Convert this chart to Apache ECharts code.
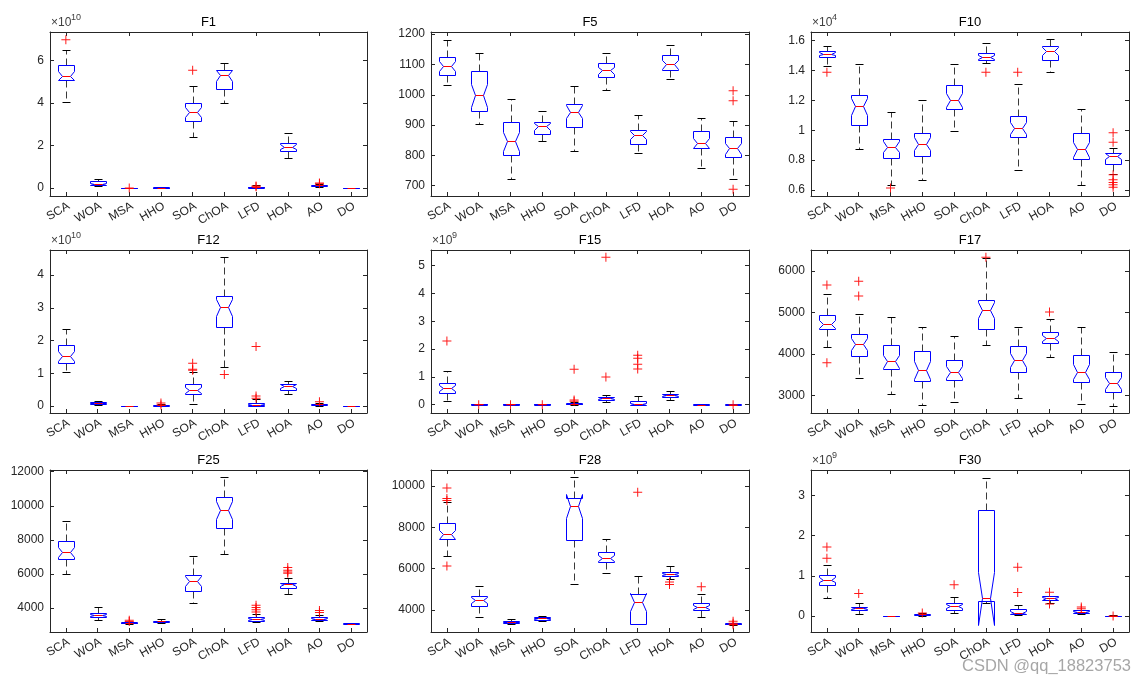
<!DOCTYPE html>
<html><head><meta charset="utf-8">
<script src="https://cdn.jsdelivr.net/npm/echarts@6/dist/echarts.min.js"></script>
<style>html,body{margin:0;padding:0;background:#fff}#c{width:1146px;height:684px}</style>
</head><body><div id="c"></div>
<script>
// ---------------- DATA ----------------
const categories = ['SCA','WOA','MSA','HHO','SOA','ChOA','LFD','HOA','AO','DO'];
const panelTitles = ['F1','F5','F10','F12','F15','F17','F25','F28','F30'];
const exponents = ['10', null, '4', '10', '9', null, null, null, '9'];
const sampleSize = 30; // runs per algorithm, used for notch half-width 1.57*IQR/sqrt(n)

// box stats per category: [lowWhisker, q1, median, q3, highWhisker]
const f1Box = [[4.03,5.06,5.27,5.78,6.47],[0.11,0.14,0.20,0.32,0.42],[0.00,0.005,0.01,0.015,0.02],[0.01,0.015,0.02,0.025,0.03],[2.41,3.17,3.56,3.98,4.80],[3.98,4.66,5.30,5.55,5.85],[0.00,0.02,0.04,0.07,0.12],[1.39,1.72,1.93,2.13,2.59],[0.06,0.09,0.12,0.15,0.18],[0,0.003,0.005,0.008,0.01]];
const f1Out = [[0,6.97],[2,0.0],[4,5.53],[6,0.06],[6,0.09],[8,0.23],[8,0.2]];
const f1Lim = [-0.376, 7.33];
const f1Ticks = [0,2,4,6];

const f5Box = [[1031,1066,1095,1124,1180],[902,947,998,1079,1139],[721,802,846,909,986],[847,870,896,910,948],[813,895,944,969,1028],[1017,1060,1080,1106,1139],[807,839,867,885,932],[1053,1083,1100,1130,1164],[757,824,840,879,923],[722,796,823,859,915]];
const f5Out = [[9,1013],[9,980],[9,688]];
const f5Lim = [666, 1207];
const f5Ticks = [700,800,900,1000,1100,1200];

const f10Box = [[1.431,1.491,1.513,1.531,1.564],[0.878,1.038,1.162,1.236,1.447],[0.631,0.813,0.891,0.940,1.124],[0.667,0.831,0.911,0.980,1.200],[0.996,1.144,1.202,1.300,1.447],[1.453,1.469,1.491,1.516,1.582],[0.733,0.953,1.013,1.096,1.311],[1.387,1.469,1.531,1.564,1.609],[0.633,0.807,0.873,0.980,1.140],[0.709,0.776,0.829,0.847,0.880]];
const f10Out = [[0,1.389],[2,0.613],[5,1.389],[6,1.389],[9,0.984],[9,0.920],[9,0.702],[9,0.669],[9,0.651],[9,0.636],[9,0.618]];
const f10Lim = [0.56, 1.658];
const f10Ticks = [0.6,0.8,1,1.2,1.4,1.6];

const f12Box = [[1.03,1.306,1.52,1.857,2.357],[0.03,0.07,0.09,0.12,0.16],[0.005,0.008,0.01,0.012,0.015],[0.005,0.01,0.02,0.03,0.05],[0.071,0.378,0.49,0.663,1.05],[1.184,2.398,3.01,3.347,4.55],[0.0,0.01,0.04,0.09,0.2],[0.367,0.48,0.612,0.663,0.755],[0.01,0.03,0.05,0.07,0.1],[0.005,0.008,0.01,0.012,0.015]];
const f12Out = [[3,0.09],[3,0.03],[4,1.306],[4,1.12],[4,1.09],[5,0.959],[6,1.816],[6,0.306],[6,0.235],[8,0.13]];
const f12Lim = [-0.214, 4.765];
const f12Ticks = [0,1,2,3,4];

const f15Box = [[0.132,0.432,0.6,0.767,1.21],[0.0,0.005,0.01,0.015,0.02],[0.0,0.005,0.01,0.015,0.02],[0.0,0.005,0.01,0.015,0.02],[0.0,0.01,0.024,0.05,0.09],[0.108,0.156,0.228,0.288,0.35],[0.0,0.0,0.01,0.12,0.312],[0.18,0.276,0.336,0.396,0.504],[0,0.003,0.005,0.008,0.01],[0,0.003,0.005,0.008,0.01]];
const f15Out = [[0,2.29],[1,0.0],[2,0.0],[3,0.0],[4,1.27],[4,0.168],[4,0.12],[5,5.3],[5,0.995],[6,1.775],[6,1.667],[6,1.45],[6,1.283],[9,0.0]];
const f15Lim = [-0.3, 5.564];
const f15Ticks = [0,1,2,3,4,5];

const f17Box = [[4179,4612,4724,4949,5438],[3417,3946,4243,4484,4973],[3040,3650,3826,4219,4893],[2775,3345,3618,4075,4660],[2856,3377,3569,3850,4436],[4211,4612,5053,5294,6320],[2944,3569,3858,4187,4660],[3922,4267,4387,4540,4853],[2800,3329,3577,3978,4660],[2751,3080,3297,3577,4043]];
const f17Out = [[0,5662],[0,3794],[1,5751],[1,5398],[5,6328],[7,5013]];
const f17Lim = [2583, 6505];
const f17Ticks = [3000,4000,5000,6000];

const f25Box = [[5985,6880,7308,7911,9099],[3280,3455,3591,3728,4039],[3090,3124,3144,3163,3200],[3105,3183,3222,3241,3338],[4311,5012,5596,5965,7075],[7172,8670,9741,10539,11667],[3202,3261,3358,3455,3650],[4837,5168,5401,5498,5790],[3222,3280,3358,3455,3591],[3040,3066,3085,3124,3150]];
const f25Out = [[2,3290],[2,3220],[6,4175],[6,4039],[6,3903],[6,3766],[7,6374],[7,6218],[7,6121],[7,6043],[8,3864],[8,3747]];
const f25Lim = [2600, 12097];
const f25Ticks = [4000,6000,8000,10000,12000];

const f28Box = [[6598,7433,7673,8186,9213],[3663,4192,4497,4690,5155],[3342,3390,3439,3471,3551],[3487,3519,3599,3663,3695],[5267,7384,9037,9438,10432],[5813,6310,6518,6823,7433],[3310,3310,4401,4786,5652],[5492,5652,5732,5845,6149],[3663,4016,4144,4337,4754],[3300,3326,3342,3358,3380]];
const f28Out = [[0,9903],[0,9389],[0,9293],[0,6133],[6,9694],[7,5363],[7,5235],[8,5123],[9,3455],[9,3358],[9,3290]];
const f28Lim = [2941, 10769];
const f28Ticks = [4000,6000,8000,10000];

const f30Box = [[0.438,0.785,0.909,1.033,1.281],[0.05,0.14,0.19,0.231,0.322],[0.0,0.003,0.005,0.007,0.01],[0.01,0.03,0.045,0.06,0.08],[0.066,0.157,0.256,0.331,0.463],[0.314,0.364,0.438,2.628,3.446],[0.025,0.041,0.083,0.165,0.273],[0.33,0.397,0.438,0.488,0.504],[0.05,0.074,0.107,0.14,0.157],[0.0,0.005,0.01,0.012,0.015]];
const f30Out = [[0,1.719],[0,1.438],[1,0.562],[3,0.075],[4,0.777],[6,1.215],[6,0.587],[7,0.595],[7,0.30],[8,0.223],[8,0.18],[9,0.0]];
const f30Lim = [-0.397, 3.636];
const f30Ticks = [0,1,2,3];

// ---------------- LAYOUT / STYLE ----------------
const boxes = [f1Box,f5Box,f10Box,f12Box,f15Box,f17Box,f25Box,f28Box,f30Box];
const outs = [f1Out,f5Out,f10Out,f12Out,f15Out,f17Out,f25Out,f28Out,f30Out];
const lims = [f1Lim,f5Lim,f10Lim,f12Lim,f15Lim,f17Lim,f25Lim,f28Lim,f30Lim];
const ticks = [f1Ticks,f5Ticks,f10Ticks,f12Ticks,f15Ticks,f17Ticks,f25Ticks,f28Ticks,f30Ticks];
const colLeft = [50, 431, 811], colWidth = [317, 318, 318];
const rowTop = [32, 250, 470], rowHeight = [164, 163, 162];
const FONT = '"Liberation Sans", Arial, Helvetica, sans-serif';
const TXT = '#262626';
const plusSymbol = 'path://M4,0H5V4H9V5H5V9H4V5H0V4H4Z';

function fmt(v){ return String(parseFloat(Number(v).toFixed(6))); }

function renderBox(params, api){
  const idx = api.value(0);
  const lo = api.value(1), q1 = api.value(2), md = api.value(3), q3 = api.value(4), hi = api.value(5);
  const notch = 1.57 * (q3 - q1) / Math.sqrt(sampleSize);
  const nlo = md - notch, nhi = md + notch;
  const band = api.size([1, 0])[0];
  const hw = Math.round(band * 0.25);
  const cx = Math.round(api.coord([idx, md])[0]) + 0.5;
  const Y = v => Math.round(api.coord([idx, v])[1]) + 0.5;
  const L = cx - hw, R = cx + hw;
  const mL = cx - Math.round(hw/2), mR = cx + Math.round(hw/2);
  const cL = cx - Math.round(hw*0.45), cR = cx + Math.round(hw*0.45);
  const dash = {stroke:'#3a3a3a', lineWidth:1, lineDash:[7,4], fill:'none'};
  const solid = {stroke:'#000', lineWidth:1, fill:'none'};
  const ch = [];
  if (Y(hi) < Y(q3)) ch.push({type:'line', shape:{x1:cx,y1:Y(q3),x2:cx,y2:Y(hi)}, style:dash});
  if (Y(lo) > Y(q1)) ch.push({type:'line', shape:{x1:cx,y1:Y(q1),x2:cx,y2:Y(lo)}, style:dash});
  ch.push({type:'line', shape:{x1:cL,y1:Y(hi),x2:cR,y2:Y(hi)}, style:solid});
  ch.push({type:'line', shape:{x1:cL,y1:Y(lo),x2:cR,y2:Y(lo)}, style:solid});
  ch.push({type:'polygon', shape:{points:[
    [L,Y(q1)],[L,Y(nlo)],[mL,Y(md)],[L,Y(nhi)],[L,Y(q3)],
    [R,Y(q3)],[R,Y(nhi)],[mR,Y(md)],[R,Y(nlo)],[R,Y(q1)]
  ]}, style:{stroke:'#0000ff', lineWidth:1, fill:'none'}});
  ch.push({type:'line', shape:{x1:mL,y1:Y(md),x2:mR,y2:Y(md)}, style:{stroke:'#ff0000', lineWidth:1}});
  return {type:'group', children:ch};
}

const grids = [], xAxes = [], yAxes = [], series = [], graphics = [];
const axisLine = {show:true, onZero:false, lineStyle:{color:TXT, width:1}};
for (let i = 0; i < 9; i++){
  const r = Math.floor(i/3), c = i%3;
  grids.push({left:colLeft[c], top:rowTop[r], width:colWidth[c], height:rowHeight[r], containLabel:false});
}
for (let i = 0; i < 9; i++){
  xAxes.push({type:'category', gridIndex:i, data:categories, boundaryGap:true, position:'bottom',
    axisLine:axisLine, axisTick:{show:true, inside:true, alignWithLabel:true, length:4, lineStyle:{color:TXT}},
    axisLabel:{interval:0, rotate:30, fontSize:12, color:TXT, fontFamily:FONT, margin:4, verticalAlign:'top', align:'right'},
    splitLine:{show:false}});
  yAxes.push({type:'value', gridIndex:i, min:lims[i][0], max:lims[i][1], position:'left',
    axisLine:axisLine, axisTick:{show:true, inside:true, length:4, customValues:ticks[i], lineStyle:{color:TXT}},
    axisLabel:{customValues:ticks[i], formatter:fmt, fontSize:12, color:TXT, fontFamily:FONT, margin:6},
    splitLine:{show:false}});
}
for (let i = 0; i < 9; i++){
  xAxes.push({type:'category', gridIndex:i, data:categories, boundaryGap:true, position:'top',
    axisLine:axisLine, axisTick:{show:true, inside:true, alignWithLabel:true, length:4, lineStyle:{color:TXT}},
    axisLabel:{show:false}, splitLine:{show:false}});
  yAxes.push({type:'value', gridIndex:i, min:lims[i][0], max:lims[i][1], position:'right',
    axisLine:axisLine, axisTick:{show:true, inside:true, length:4, customValues:ticks[i], lineStyle:{color:TXT}},
    axisLabel:{show:false}, splitLine:{show:false}});
}
for (let i = 0; i < 9; i++){
  series.push({type:'custom', xAxisIndex:i, yAxisIndex:i, renderItem:renderBox, clip:false, silent:true,
    encode:{x:0, y:[1,2,3,4,5]},
    data: boxes[i].map((b, k) => [k, b[0], b[1], b[2], b[3], b[4]])});
  series.push({type:'scatter', xAxisIndex:i, yAxisIndex:i, symbol:plusSymbol, symbolSize:9, silent:true, z:5,
    itemStyle:{color:'#ff0000', opacity:0.9}, data: outs[i]});
  const r = Math.floor(i/3), c = i%3;
  graphics.push({type:'text', x: colLeft[c] + colWidth[c]/2, y: rowTop[r] - 10,
    style:{text:panelTitles[i], fill:'#000', font:'13px ' + FONT, align:'center', verticalAlign:'middle'}});
  if (exponents[i]){
    graphics.push({type:'text', x: colLeft[c] + 1, y: rowTop[r] - 3,
      style:{text:'\u00d710', fill:'#404040', font:'12px ' + FONT, align:'left', verticalAlign:'bottom'}});
    graphics.push({type:'text', x: colLeft[c] + 21, y: rowTop[r] - 10,
      style:{text:exponents[i], fill:'#404040', font:'9px ' + FONT, align:'left', verticalAlign:'bottom'}});
  }
}
graphics.push({type:'text', x:1131, y:666, style:{text:'CSDN @qq_18823753', fill:'rgba(150,150,150,0.85)', font:'16.5px ' + FONT, align:'right', verticalAlign:'middle'}, z:100});

const chart = echarts.init(document.getElementById('c'), null, {renderer:'canvas'});
chart.setOption({animation:false, backgroundColor:'#fff', grid:grids, xAxis:xAxes, yAxis:yAxes, series:series, graphic:graphics});
</script></body></html>
